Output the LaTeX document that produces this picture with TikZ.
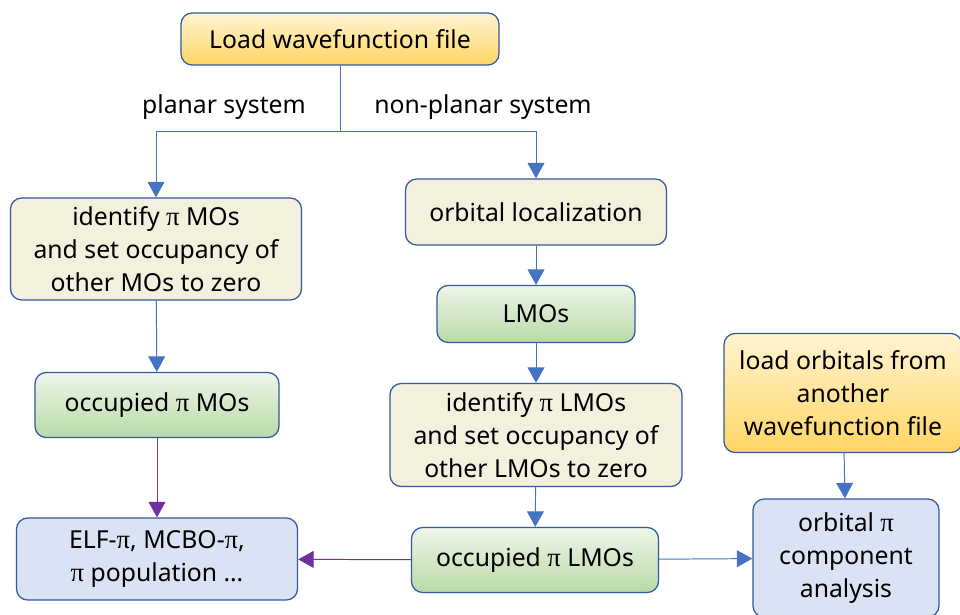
\documentclass[tikz,border=0pt]{standalone}
\usepackage{fontspec}
\setmainfont{Noto Sans}
\newfontfamily\pifont{Liberation Serif}
\usetikzlibrary{arrows.meta, positioning}
\definecolor{boxline}{RGB}{52, 90, 158}
\definecolor{linkblue}{RGB}{68, 114, 196}
\definecolor{linkpurple}{RGB}{112, 48, 160}
\definecolor{yellowtop}{RGB}{255, 244, 210}
\definecolor{yellowbot}{RGB}{255, 214, 100}
\definecolor{beigefill}{RGB}{244, 240, 222}
\definecolor{greentop}{RGB}{238, 246, 234}
\definecolor{greenbot}{RGB}{184, 218, 166}
\definecolor{bluefill}{RGB}{218, 227, 243}
\newcommand{\pisym}{{\pifont\fontsize{19}{23.5}\selectfont π}}

\begin{document}
\begin{tikzpicture}[x=0.025cm, y=-0.025cm,
    font=\fontsize{17.6}{23.5}\selectfont,
    box/.style={draw=boxline, line width=0.9pt, rounded corners=8pt, align=center, inner sep=3pt},
    loadbox/.style={box, top color=yellowtop, bottom color=yellowbot},
    stepbox/.style={box, fill=beigefill},
    orbbox/.style={box, top color=greentop, bottom color=greenbot},
    resultbox/.style={box, fill=bluefill},
    link/.style={draw=linkblue, line width=0.7pt, -{Triangle[width=12pt, length=11pt]}},
    plink/.style={draw=linkpurple, line width=0.7pt, -{Triangle[width=12pt, length=11pt]}}]
  \useasboundingbox (0,0) rectangle (960,615);

  % start
  \node[loadbox, minimum width=7.95cm, minimum height=1.3cm] (load) at (340,39) {Load wavefunction file};
  \coordinate (split) at (340,131);
  \node (planar) at (224,107) {planar system};
  \node (nonplanar) at (483,107) {non-planar system};

  % planar branch
  \node[stepbox, minimum width=7.275cm, minimum height=2.55cm] (idmo) at (156,249)
    {identify \pisym{} MOs\\and set occupancy of\\other MOs to zero};
  \node[orbbox, minimum width=6.1cm, minimum height=1.625cm] (occmo) at (157,405) {occupied \pisym{} MOs};
  \node[resultbox, minimum width=7.025cm, minimum height=2.05cm] (elf) at (157,559)
    {ELF-\pisym, MCBO-\pisym,\\\pisym{} population \dots};

  % non-planar branch
  \node[stepbox, minimum width=6.525cm, minimum height=1.65cm] (loc) at (536,212) {orbital localization};
  \node[orbbox, minimum width=4.95cm, minimum height=1.425cm] (lmo) at (536,314) {LMOs};
  \node[stepbox, minimum width=7.3cm, minimum height=2.575cm] (idlmo) at (536,435)
    {identify \pisym{} LMOs\\and set occupancy of\\other LMOs to zero};
  \node[orbbox, minimum width=6.175cm, minimum height=1.625cm] (occlmo) at (535,560) {occupied \pisym{} LMOs};

  % other wavefunction
  \node[loadbox, minimum width=5.95cm, minimum height=2.975cm] (other) at (843,393)
    {load orbitals from\\another\\wavefunction file};
  \node[resultbox, minimum width=4.65cm, minimum height=2.95cm] (comp) at (846,558)
    {orbital \pisym\\component\\analysis};

  % connectors
  \draw[draw=linkblue, line width=0.7pt] (load) -- (split);
  \draw[link] (split) -| (idmo);
  \draw[link] (split) -| (loc);
  \draw[link] (idmo) -- (occmo);
  \draw[link] (loc) -- (lmo);
  \draw[link] (lmo) -- (idlmo);
  \draw[link] (idlmo) -- (occlmo);
  \draw[link] (other) -- (comp);
  \draw[link] (occlmo) -- (comp);
  \draw[plink] (occmo) -- (elf);
  \draw[plink] (occlmo) -- (elf);
\end{tikzpicture}
\end{document}
